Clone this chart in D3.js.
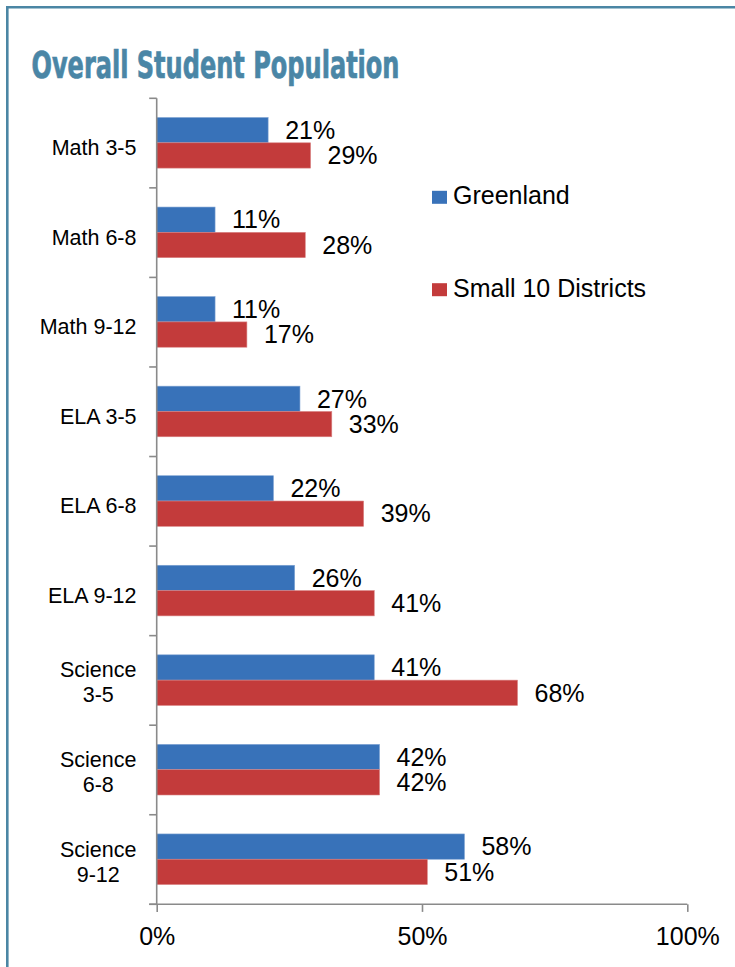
<!DOCTYPE html>
<html>
<head>
<meta charset="utf-8">
<script src="https://cdn.jsdelivr.net/npm/d3@7"></script>
<style>
  html, body { margin: 0; padding: 0; background: #fff; }
  svg { display: block; }
  text { font-family: "Liberation Sans", Arial, sans-serif; fill: #000; }
</style>
</head>
<body>
<svg id="chart" width="735" height="967"></svg>
<script>
// ---- data ----
const categories = ["Math 3-5", "Math 6-8", "Math 9-12", "ELA 3-5", "ELA 6-8", "ELA 9-12",
                    "Science\n3-5", "Science\n6-8", "Science\n9-12"];
const seriesNames = ["Greenland", "Small 10 Districts"];
const greenland = [21, 11, 11, 27, 22, 26, 41, 42, 58];
const small10 = [29, 28, 17, 33, 39, 41, 68, 42, 51];
const xTicks = [0, 50, 100];
const title = "Overall Student Population";

// ---- layout ----
const colors = ["#3872b9", "#c33b3b"];
const svg = d3.select("#chart");
const frameColor = "#4b86a4";

// frame (top + left)
svg.append("line").attr("x1", 6).attr("x2", 735).attr("y1", 7.3).attr("y2", 7.3)
  .attr("stroke", frameColor).attr("stroke-width", 2.6);
svg.append("line").attr("x1", 7.3).attr("x2", 7.3).attr("y1", 6).attr("y2", 967)
  .attr("stroke", frameColor).attr("stroke-width", 2.6);

// title
svg.append("text")
  .attr("x", 31.5).attr("y", 77.5)
  .attr("textLength", 368).attr("lengthAdjust", "spacingAndGlyphs")
  .style("font-family", "'Liberation Sans Narrow', 'DejaVu Sans Condensed', 'Liberation Sans', sans-serif")
  .style("font-weight", "bold")
  .style("font-size", "37px")
  .style("fill", "#4a86a6")
  .style("stroke", "#4a86a6")
  .style("stroke-width", "0.7px")
  .text(title);

const x = d3.scaleLinear().domain([0, 100]).range([156.7, 687.3]);
const y0 = d3.scaleBand().domain(categories).range([98.3, 904.3]).padding(0);
const y1 = d3.scaleBand().domain(seriesNames).range([19.2, 69.8]).padding(0);

const rows = categories.map((c, i) => ({ cat: c, values: [greenland[i], small10[i]] }));

// bars
const g = svg.append("g");
const groups = g.selectAll("g.cat").data(rows).join("g")
  .attr("class", "cat")
  .attr("transform", d => `translate(0,${y0(d.cat)})`);

groups.selectAll("rect").data(d => d.values.map((v, k) => ({ v, k })))
  .join("rect")
  .attr("x", x(0))
  .attr("y", d => y1(seriesNames[d.k]))
  .attr("width", d => x(d.v) - x(0))
  .attr("height", y1.bandwidth())
  .attr("fill", d => colors[d.k])
  .attr("stroke", d => d.k === 0 ? "#7fa3d3" : "#d98383")
  .attr("stroke-width", 0.6);

// value labels
groups.selectAll("text.val").data(d => d.values.map((v, k) => ({ v, k })))
  .join("text")
  .attr("class", "val")
  .attr("x", d => x(d.v) + 17)
  .attr("y", d => y1(seriesNames[d.k]) + y1.bandwidth() / 2)
  .attr("dy", "0.35em")
  .style("font-size", "25px")
  .text(d => d.v + "%");

// y axis line and boundary ticks
const axisColor = "#8a8a8a";
svg.append("line").attr("x1", x(0)).attr("x2", x(0))
  .attr("y1", y0.range()[0]).attr("y2", y0.range()[1])
  .attr("stroke", axisColor).attr("stroke-width", 1.6);
const bounds = categories.map(c => y0(c)).concat([y0.range()[1]]);
svg.selectAll("line.ytick").data(bounds).join("line")
  .attr("class", "ytick")
  .attr("x1", x(0) - 7.5).attr("x2", x(0))
  .attr("y1", d => d).attr("y2", d => d)
  .attr("stroke", axisColor).attr("stroke-width", 1.6);

// category labels
const catLabels = svg.selectAll("text.cat").data(rows).join("text")
  .attr("class", "cat")
  .style("font-size", "21.5px")
  .attr("text-anchor", "middle");
catLabels.each(function(d) {
  const lines = d.cat.split("\n");
  const t = d3.select(this);
  const c = y0(d.cat) + y0.bandwidth() / 2;
  const first = c + 12 - (lines.length - 1) * 15;
  lines.forEach((ln, i) => {
    t.append("tspan").attr("x", 0).attr("y", first + i * 25).text(ln);
  });
  let maxW = 0;
  t.selectAll("tspan").each(function() { maxW = Math.max(maxW, this.getComputedTextLength()); });
  t.selectAll("tspan").attr("x", 136.5 - maxW / 2);
});

// x axis
const xAxis = d3.axisBottom(x).tickValues(xTicks).tickSize(7.6).tickSizeOuter(0)
  .tickFormat(d => d + "%");
const xg = svg.append("g").attr("transform", `translate(0,904.3)`).call(xAxis);
xg.select(".domain").attr("stroke", axisColor).attr("stroke-width", 1.6)
  .attr("d", `M${x(0) - 7.5},0H${x(100)}`);
xg.selectAll(".tick line").attr("stroke", axisColor).attr("stroke-width", 1.6);
xg.selectAll(".tick text")
  .attr("y", 0).attr("dy", 0)
  .attr("transform", "translate(0,40.7)")
  .style("font-family", "'Liberation Sans', Arial, sans-serif")
  .style("font-size", "25px")
  .attr("fill", "#000");

// legend
const legend = svg.append("g");
const legendY = [204.3, 296.7];
seriesNames.forEach((s, i) => {
  legend.append("rect")
    .attr("x", 432).attr("y", legendY[i] - 13.5)
    .attr("width", 15).attr("height", 13)
    .attr("fill", colors[i]);
  legend.append("text")
    .attr("x", 453).attr("y", legendY[i])
    .style("font-size", "25px")
    .text(s);
});
</script>
</body>
</html>
